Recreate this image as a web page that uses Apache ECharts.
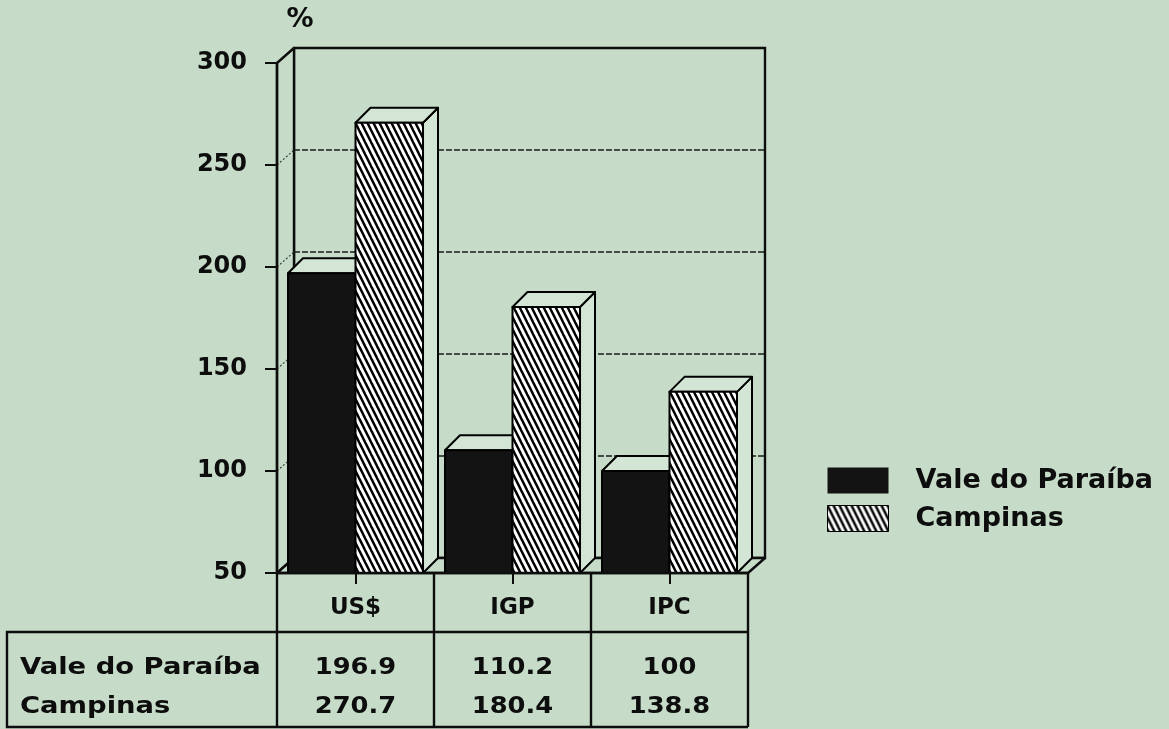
<!DOCTYPE html>
<html>
<head>
<meta charset="utf-8">
<script src="https://cdn.jsdelivr.net/npm/echarts@6/dist/echarts.min.js"></script>
<style>
  html, body { margin: 0; padding: 0; background: #c6dcc9; }
  #chart { width: 1169px; height: 729px; }
</style>
</head>
<body>
<div id="chart"></div>
<script>
// ---- data ----
const categories = ['US$', 'IGP', 'IPC'];
const seriesNames = ['Vale do Paraíba', 'Campinas'];
const valeDoParaiba = [196.9, 110.2, 100];
const campinas = [270.7, 180.4, 138.8];
const yTickValues = [50, 100, 150, 200, 250, 300];
const yUnit = '%';

// ---- layout / style ----
const FONT = 'DejaVu Sans';
const BG = '#c6dcc9';
const FACE = '#d3e5d5';
const INK = '#0d0d0d';
const GRID = { left: 277, top: 63, width: 471, height: 510 };
const WALL = { dx: 17, dy: -15 };
const BAR = { dx: 15, dy: -15, frac: 0.43 };
const TABLE = { left: 7, boxTop: 632, bottom: 727, rowY: [668, 707], labelX: 20 };
const LW = 2.4;

const yMin = yTickValues[0];
const yMax = yTickValues[yTickValues.length - 1];
const yStep = yTickValues[1] - yTickValues[0];

// diagonal hatch tile used for the second series
function makeHatch() {
  const w = 6, h = 12;
  const c = document.createElement('canvas');
  c.width = w; c.height = h;
  const g = c.getContext('2d');
  g.fillStyle = '#ffffff';
  g.fillRect(0, 0, w, h);
  g.strokeStyle = '#000000';
  g.lineWidth = 2.5;
  for (const ox of [-w, 0, w]) {
    g.beginPath();
    g.moveTo(ox - w, -h);
    g.lineTo(ox + 2 * w, 2 * h);
    g.stroke();
  }
  return c;
}
const hatch = { image: makeHatch(), repeat: 'repeat' };
const BLACK = '#131313';

// back wall, left wall, floor and dashed grid of the box
function renderFrame(params, api) {
  const cs = params.coordSys;
  const x0 = cs.x, x1 = cs.x + cs.width;
  const yT = cs.y, yB = cs.y + cs.height;
  const dx = WALL.dx, dy = WALL.dy;
  const kids = [];
  kids.push({ type: 'rect', shape: { x: x0 + dx, y: yT + dy, width: cs.width, height: cs.height },
    style: { fill: BG, stroke: INK, lineWidth: LW } });
  kids.push({ type: 'polygon', shape: { points: [[x0, yT], [x0 + dx, yT + dy], [x0 + dx, yB + dy], [x0, yB]] },
    style: { fill: BG, stroke: INK, lineWidth: LW, lineJoin: 'round' } });
  kids.push({ type: 'polygon', shape: { points: [[x0, yB], [x0 + dx, yB + dy], [x1 + dx, yB + dy], [x1, yB]] },
    style: { fill: BG, stroke: INK, lineWidth: LW, lineJoin: 'round' } });
  yTickValues.forEach(function (v) {
    if (v === yMin || v === yMax) return;
    const y = api.coord([0, v])[1];
    kids.push({ type: 'line', shape: { x1: x0 + dx, y1: y + dy, x2: x1 + dx, y2: y + dy },
      style: { stroke: '#1a1a1a', lineWidth: 1.6, lineDash: [6, 2] } });
    kids.push({ type: 'line', shape: { x1: x0, y1: y, x2: x0 + dx, y2: y + dy },
      style: { stroke: '#333', lineWidth: 1.1, lineDash: [2, 2] } });
  });
  return { type: 'group', children: kids };
}

// one 3D block per category plus its value in the table below
function makeBarRenderer(side, fill) {
  return function (params, api) {
    const i = api.value(0);
    const v = api.value(1);
    const band = api.size([1, 0])[0];
    const w = band * BAR.frac;
    const top = api.coord([i, v]);
    const base = api.coord([i, yMin]);
    const cx = top[0];
    const x0 = side < 0 ? cx - w : cx;
    const x1 = x0 + w;
    const yT = top[1], yB = base[1];
    const dx = BAR.dx, dy = BAR.dy;
    const edge = { stroke: '#000', lineWidth: 2, lineJoin: 'round' };
    return {
      type: 'group',
      children: [
        { type: 'polygon', shape: { points: [[x1, yT], [x1 + dx, yT + dy], [x1 + dx, yB + dy], [x1, yB]] },
          style: Object.assign({ fill: FACE }, edge) },
        { type: 'polygon', shape: { points: [[x0, yT], [x1, yT], [x1 + dx, yT + dy], [x0 + dx, yT + dy]] },
          style: Object.assign({ fill: FACE }, edge) },
        { type: 'rect', shape: { x: x0, y: yT, width: w, height: yB - yT },
          style: Object.assign({ fill: fill }, edge) },
        { type: 'text', x: cx, y: TABLE.rowY[side < 0 ? 0 : 1], scaleX: 1.12,
          style: { text: String(v), x: 0, y: 0, align: 'center', verticalAlign: 'middle',
            font: 'bold 23px "' + FONT + '"', fill: INK } }
      ]
    };
  };
}

const chart = echarts.init(document.getElementById('chart'), null, { renderer: 'canvas' });

const band = GRID.width / categories.length;
const colX = [];
for (let k = 0; k <= categories.length; k++) colX.push(GRID.left + k * band);
const floorY = GRID.top + GRID.height;
const tableRight = colX[colX.length - 1];

const tableParts = [];
colX.forEach(function (x) {
  tableParts.push({ type: 'line', shape: { x1: x, y1: floorY, x2: x, y2: TABLE.bottom },
    style: { stroke: INK, lineWidth: LW } });
});
tableParts.push({ type: 'polyline', shape: { points: [[tableRight, TABLE.boxTop], [TABLE.left, TABLE.boxTop],
  [TABLE.left, TABLE.bottom], [tableRight, TABLE.bottom]] },
  style: { stroke: INK, lineWidth: LW, fill: null } });
seriesNames.forEach(function (name, r) {
  tableParts.push({ type: 'text', x: TABLE.labelX, y: TABLE.rowY[r], scaleX: 1.19,
    style: { text: name, x: 0, y: 0, align: 'left', verticalAlign: 'middle',
      font: 'bold 23px "' + FONT + '"', fill: INK } });
});

chart.setOption({
  backgroundColor: BG,
  animation: false,
  grid: { left: GRID.left, top: GRID.top, width: GRID.width, height: GRID.height, containLabel: false },
  legend: {
    orient: 'vertical',
    left: 827,
    top: 467,
    padding: 0,
    itemWidth: 61,
    itemHeight: 26,
    itemGap: 11,
    icon: 'rect',
    selectedMode: false,
    textStyle: { fontFamily: FONT, fontWeight: 'bold', fontSize: 27, color: INK, lineHeight: 27, padding: [0, 0, 0, 22] },
    data: [
      { name: seriesNames[0], itemStyle: { color: BLACK, borderWidth: 0 } },
      { name: seriesNames[1], itemStyle: { color: hatch, borderColor: '#000', borderWidth: 1 } }
    ]
  },
  xAxis: {
    type: 'category',
    data: categories,
    z: 10,
    axisLine: { show: true, lineStyle: { color: INK, width: LW } },
    axisTick: { show: true, alignWithLabel: true, length: 11, lineStyle: { color: INK, width: 2 } },
    axisLabel: { margin: 24, fontFamily: FONT, fontWeight: 'bold', fontSize: 23, color: INK },
    splitLine: { show: false }
  },
  yAxis: {
    type: 'value',
    min: yMin,
    max: yMax,
    interval: yStep,
    z: 10,
    name: yUnit,
    nameLocation: 'end',
    nameGap: 30,
    nameTextStyle: { fontFamily: FONT, fontWeight: 'bold', fontSize: 27, color: INK, align: 'center', padding: [0, 0, 0, 46] },
    axisLine: { show: true, lineStyle: { color: INK, width: LW } },
    axisTick: { show: true, length: 12, lineStyle: { color: INK, width: 2 } },
    axisLabel: { margin: 30, fontFamily: FONT, fontWeight: 'bold', fontSize: 24, color: INK },
    splitLine: { show: false }
  },
  graphic: tableParts,
  series: [
    { type: 'custom', name: 'frame', z: 1, silent: true, renderItem: renderFrame,
      data: [[0, yMin]], encode: { x: 0, y: 1 } },
    { type: 'custom', name: seriesNames[0], z: 2, renderItem: makeBarRenderer(-1, BLACK),
      itemStyle: { color: BLACK },
      data: valeDoParaiba.map(function (v, i) { return [i, v]; }), encode: { x: 0, y: 1 } },
    { type: 'custom', name: seriesNames[1], z: 3, renderItem: makeBarRenderer(1, hatch),
      itemStyle: { color: hatch },
      data: campinas.map(function (v, i) { return [i, v]; }), encode: { x: 0, y: 1 } }
  ]
});
</script>
</body>
</html>
